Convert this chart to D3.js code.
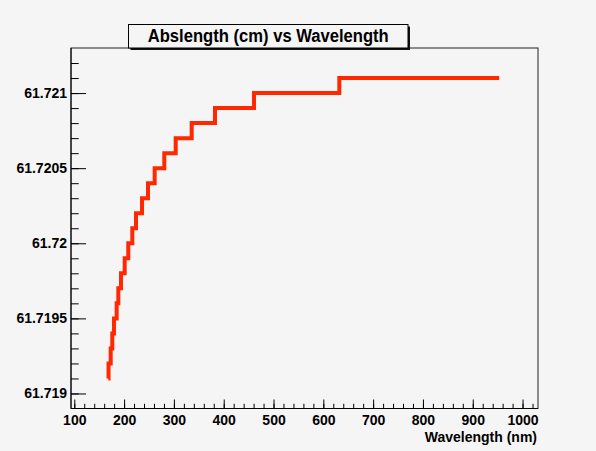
<!DOCTYPE html>
<html>
<head>
<meta charset="utf-8">
<script src="https://cdn.jsdelivr.net/npm/d3@7"></script>
<style>
  body { margin: 0; background: #f5f5f5; }
  text { font-family: "Liberation Sans", Arial, sans-serif; font-weight: bold; fill: #000; }
</style>
</head>
<body>
<div id="graph"></div>
<script>
// wavelength (nm) where each absorption-length level starts
const levelStart = [168.3, 168.8, 173.1, 176.3, 179.7, 185.1, 188.4, 193.8, 201.2, 208.4,
                    216.5, 223.9, 236.0, 248.0, 261.4, 280.7, 303.6, 335.7, 382.5, 460.8, 632.1];
const abslength  = [61.7191, 61.7192, 61.7193, 61.7194, 61.7195, 61.7196, 61.7197, 61.7198, 61.7199, 61.7200,
                    61.7201, 61.7202, 61.7203, 61.7204, 61.7205, 61.7206, 61.7207, 61.7208, 61.7209, 61.7210, 61.7211];
const lastWavelength = 953;

const xTicks = [100, 200, 300, 400, 500, 600, 700, 800, 900, 1000];
const yTicks = [61.719, 61.7195, 61.72, 61.7205, 61.721];
const yTickLabels = ["61.719", "61.7195", "61.72", "61.7205", "61.721"];
const xMinor = d3.range(100, 1031, 20);
const yMinor = d3.range(0, 25).map(i => 61.7189 + i * 0.0001);

const W = 596, H = 451;
const margin = {top: 48, right: 58, bottom: 42.5, left: 71};
const width = W - margin.left - margin.right,
      height = H - margin.top - margin.bottom;

const svg = d3.select("#graph")
  .append("svg")
    .attr("width", W)
    .attr("height", H)
    .style("background", "#f5f5f5");

const g = svg.append("g")
    .attr("transform", "translate(" + margin.left + "," + margin.top + ")");

const x = d3.scaleLinear()
    .domain([93.4, 1031])
    .range([0, width]);

const y = d3.scaleLinear()
    .domain([61.7189, 61.7213])
    .range([height, 0]);

// frame
g.append("rect")
    .attr("x", 0).attr("y", 0)
    .attr("width", width).attr("height", height)
    .attr("fill", "#f5f5f5")
    .attr("stroke", "#222")
    .attr("stroke-width", 1);

// x axis, minor then major
g.append("g")
    .attr("transform", "translate(0," + height + ")")
    .call(d3.axisBottom(x).tickValues(xMinor.filter(v => v > x.domain()[0])).tickSize(-4.7).tickFormat(""))
    .call(a => a.select(".domain").remove());

g.append("g")
    .attr("transform", "translate(0," + height + ")")
    .style("font-size", "14px")
    .call(d3.axisBottom(x).tickValues(xTicks).tickSize(-9).tickSizeOuter(0).tickPadding(7).tickFormat(d3.format("d")))
    .call(a => a.select(".domain").remove())
    .selectAll("text").style("font-family", null).style("font-weight", null);

// y axis, minor then major
g.append("g")
    .call(d3.axisLeft(y).tickValues(yMinor.filter(v => v > 61.71891 && v < 61.72129)).tickSize(-7.7).tickFormat(""))
    .call(a => a.select(".domain").remove());

g.append("g")
    .style("font-size", "14px")
    .call(d3.axisLeft(y).tickValues(yTicks).tickSize(-15).tickSizeOuter(0).tickPadding(4)
          .tickFormat((d, i) => yTickLabels[i]))
    .call(a => a.select(".domain").remove());

svg.selectAll(".tick line").attr("stroke", "#000");
svg.selectAll(".tick text").attr("font-family", null).attr("fill", "#000");

// axis lines
g.append("line").attr("x1", 0).attr("x2", width).attr("y1", height).attr("y2", height)
    .attr("stroke", "#000");
g.append("line").attr("x1", 0).attr("x2", 0).attr("y1", 0).attr("y2", height)
    .attr("stroke", "#000");

// x axis title
svg.append("text")
    .attr("x", margin.left + width - 1)
    .attr("y", 442)
    .attr("text-anchor", "end")
    .style("font-size", "14px")
    .text("Wavelength (nm)");

// step curve
const points = levelStart.map((w, i) => [w, abslength[i]]);
points.push([lastWavelength, abslength[abslength.length - 1]]);

const line = d3.line()
    .x(d => x(d[0]))
    .y(d => y(d[1]))
    .curve(d3.curveStepAfter);

g.append("path")
    .datum(points)
    .attr("fill", "none")
    .attr("stroke", "#ff2800")
    .attr("stroke-width", 4)
    .attr("d", line);

// title box with shadow
const tb = {x: 128.5, y: 24.5, w: 279.5, h: 23.5};
svg.append("rect")
    .attr("x", tb.x + 2).attr("y", tb.y + 2)
    .attr("width", tb.w).attr("height", tb.h)
    .attr("fill", "#111");
svg.append("rect")
    .attr("x", tb.x).attr("y", tb.y)
    .attr("width", tb.w).attr("height", tb.h)
    .attr("fill", "#f5f5f5")
    .attr("stroke", "#000")
    .attr("stroke-width", 1);
svg.append("text")
    .attr("x", tb.x + tb.w / 2)
    .attr("y", 41.7)
    .attr("text-anchor", "middle")
    .attr("textLength", 241)
    .attr("lengthAdjust", "spacingAndGlyphs")
    .style("font-size", "17.5px")
    .text("Abslength (cm) vs Wavelength");
</script>
</body>
</html>
